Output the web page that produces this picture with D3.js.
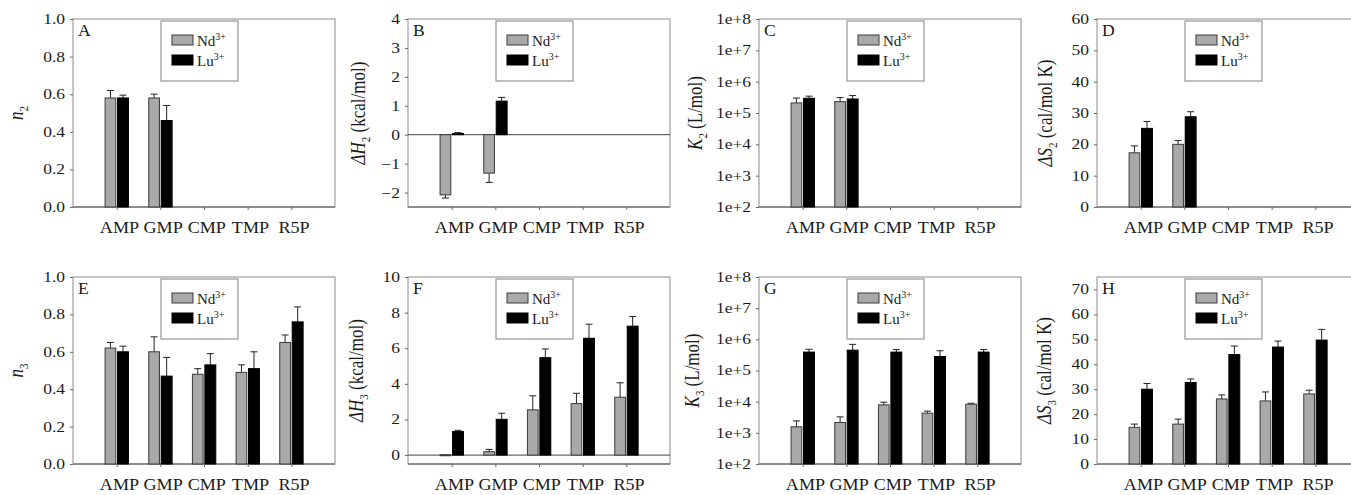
<!DOCTYPE html>
<html>
<head>
<meta charset="utf-8">
<script src="https://d3js.org/d3.v7.min.js"></script>
<style>
  body { margin: 0; background: #fff; }
  text { font-family: "Liberation Serif", "Times New Roman", serif; fill: #1a1a1a; }
</style>
</head>
<body>
<script>
// categories
var compounds = ["AMP", "GMP", "CMP", "TMP", "R5P"];

// top row (site 2) - only AMP and GMP measured
var n2Nd = [0.58, 0.58, null, null, null],  n2NdErr = [0.04, 0.02, null, null, null];
var n2Lu = [0.58, 0.46, null, null, null],  n2LuErr = [0.015, 0.08, null, null, null];
var dH2Nd = [-2.08, -1.33, null, null, null], dH2NdErr = [0.11, 0.32, null, null, null];
var dH2Lu = [0.04, 1.16, null, null, null],   dH2LuErr = [0.03, 0.13, null, null, null];
var K2Nd = [2.1e5, 2.3e5, null, null, null],  K2NdErr = [0.9e5, 0.8e5, null, null, null];
var K2Lu = [2.95e5, 2.8e5, null, null, null], K2LuErr = [0.5e5, 0.8e5, null, null, null];
var dS2Nd = [17.3, 20.0, null, null, null], dS2NdErr = [2.2, 1.2, null, null, null];
var dS2Lu = [25.1, 28.8, null, null, null], dS2LuErr = [2.2, 1.6, null, null, null];

// bottom row (site 3)
var n3Nd = [0.62, 0.60, 0.48, 0.49, 0.65], n3NdErr = [0.03, 0.08, 0.03, 0.04, 0.04];
var n3Lu = [0.60, 0.47, 0.53, 0.51, 0.76], n3LuErr = [0.03, 0.10, 0.06, 0.09, 0.08];
var dH3Nd = [0.02, 0.19, 2.54, 2.89, 3.25], dH3NdErr = [0, 0.13, 0.79, 0.58, 0.81];
var dH3Lu = [1.32, 2.01, 5.47, 6.56, 7.24], dH3LuErr = [0.07, 0.34, 0.49, 0.79, 0.54];
var K3Nd = [1.56e3, 2.15e3, 7.9e3, 4.27e3, 8.3e3], K3NdErr = [0.85e3, 1.1e3, 1.7e3, 0.7e3, 0.6e3];
var K3Lu = [3.9e5, 4.5e5, 3.9e5, 2.8e5, 3.9e5],    K3LuErr = [0.9e5, 2.4e5, 0.8e5, 1.5e5, 0.8e5];
var dS3Nd = [14.7, 16.0, 26.1, 25.3, 28.1], dS3NdErr = [1.3, 2.0, 1.6, 3.6, 1.5];
var dS3Lu = [30.0, 32.7, 43.9, 46.9, 49.7], dS3LuErr = [2.3, 1.4, 3.4, 2.4, 4.3];

// tick labels
var ticksN  = [0, 0.2, 0.4, 0.6, 0.8, 1.0];
var ticksH2 = [-2, -1, 0, 1, 2, 3, 4];
var ticksK  = [1e2, 1e3, 1e4, 1e5, 1e6, 1e7, 1e8];
var ticksS2 = [0, 10, 20, 30, 40, 50, 60];
var ticksH3 = [0, 2, 4, 6, 8, 10];
var ticksS3 = [0, 10, 20, 30, 40, 50, 60, 70];

var ions = ["Nd", "Lu"];

var W = 1351, H = 495;
var panelW = 262;
var sx = 1.25;   // the source figure is stretched sideways

var fmtN = d3.format(".1f"), fmtI = d3.format("d");
var fmtK = function (d) { return "1e+" + Math.round(Math.log10(d)); };

var panels = [
  {letter: "A", left: 73,   top: 19,  h: 188, tx: 23,   domain: [0, 1],     ticks: ticksN,  fmt: fmtN, nd: n2Nd,  ndE: n2NdErr,  lu: n2Lu,  luE: n2LuErr,
   title: [["n", "i"], ["2", "s"]]},
  {letter: "B", left: 408,  top: 19,  h: 188, tx: 365,  domain: [-2.5, 4],  ticks: ticksH2, fmt: fmtI, nd: dH2Nd, ndE: dH2NdErr, lu: dH2Lu, luE: dH2LuErr,
   title: [["ΔH", "i"], ["2", "s"], [" (kcal/mol)", ""]]},
  {letter: "C", left: 759,  top: 19,  h: 188, tx: 702,  domain: [1e2, 1e8], log: true, ticks: ticksK, fmt: fmtK, nd: K2Nd, ndE: K2NdErr, lu: K2Lu, luE: K2LuErr,
   title: [["K", "i"], ["2", "s"], [" (L/mol)", ""]]},
  {letter: "D", left: 1097, top: 19,  h: 188, tx: 1052, domain: [0, 60],    ticks: ticksS2, fmt: fmtI, nd: dS2Nd, ndE: dS2NdErr, lu: dS2Lu, luE: dS2LuErr,
   title: [["ΔS", "i"], ["2", "s"], [" (cal/mol K)", ""]]},
  {letter: "E", left: 73,   top: 277, h: 187, tx: 23,   domain: [0, 1],     ticks: ticksN,  fmt: fmtN, nd: n3Nd,  ndE: n3NdErr,  lu: n3Lu,  luE: n3LuErr,
   title: [["n", "i"], ["3", "s"]]},
  {letter: "F", left: 408,  top: 277, h: 187, tx: 363,  domain: [-0.5, 10], ticks: ticksH3, fmt: fmtI, nd: dH3Nd, ndE: dH3NdErr, lu: dH3Lu, luE: dH3LuErr,
   title: [["ΔH", "i"], ["3", "s"], [" (kcal/mol)", ""]]},
  {letter: "G", left: 759,  top: 277, h: 187, tx: 699,  domain: [1e2, 1e8], log: true, ticks: ticksK, fmt: fmtK, nd: K3Nd, ndE: K3NdErr, lu: K3Lu, luE: K3LuErr,
   title: [["K", "i"], ["3", "s"], [" (L/mol)", ""]]},
  {letter: "H", left: 1097, top: 277, h: 187, tx: 1051, domain: [0, 75],    ticks: ticksS3, fmt: fmtI, nd: dS3Nd, ndE: dS3NdErr, lu: dS3Lu, luE: dS3LuErr,
   title: [["ΔS", "i"], ["3", "s"], [" (cal/mol K)", ""]]}
];

var svg = d3.select("body").append("svg")
    .attr("width", W)
    .attr("height", H);

var barStyle = [
  {off: [-0.265, -0.02], fill: "#a9a9a9", stroke: "#3a3a3a"},
  {off: [0.02, 0.27],    fill: "#000",    stroke: "#000"}
];

panels.forEach(function (p) {
  var g = svg.append("g").attr("class", "panel");
  var x = d3.scaleLinear().domain([0, 6]).range([p.left, p.left + panelW]);
  var y = (p.log ? d3.scaleLog() : d3.scaleLinear()).domain(p.domain).range([p.top + p.h, p.top]);
  var base = p.log ? p.domain[0] : 0;

  // frame
  g.append("rect")
    .attr("x", p.left).attr("y", p.top)
    .attr("width", panelW).attr("height", p.h)
    .attr("fill", "none").attr("stroke", "#8c8c8c");
  g.append("line")
    .attr("x1", p.left).attr("x2", p.left + panelW)
    .attr("y1", p.top + p.h).attr("y2", p.top + p.h)
    .attr("stroke", "#555");

  if (p.domain[0] < 0) {
    g.append("line")
      .attr("x1", p.left).attr("x2", p.left + panelW)
      .attr("y1", y(0)).attr("y2", y(0))
      .attr("stroke", "#444");
  }

  // bars + error bars
  [[p.nd, p.ndE], [p.lu, p.luE]].forEach(function (s, k) {
    var st = barStyle[k];
    var rows = compounds.map(function (c, i) { return {i: i, v: s[0][i], e: s[1][i]}; })
      .filter(function (d) { return d.v != null; });

    var cx = function (d) { return (x(d.i + 1 + st.off[0]) + x(d.i + 1 + st.off[1])) / 2; };
    var errEnd = function (d) { return d.v >= base ? d.v + d.e : d.v - d.e; };
    var withErr = rows.filter(function (d) { return d.e > 0; });

    g.selectAll(null).data(withErr).enter().append("line")
      .attr("x1", cx).attr("x2", cx)
      .attr("y1", function (d) { return y(d.v); })
      .attr("y2", function (d) { return y(errEnd(d)); })
      .attr("stroke", "#222");
    g.selectAll(null).data(withErr).enter().append("line")
      .attr("x1", function (d) { return cx(d) - 3.5; })
      .attr("x2", function (d) { return cx(d) + 3.5; })
      .attr("y1", function (d) { return y(errEnd(d)); })
      .attr("y2", function (d) { return y(errEnd(d)); })
      .attr("stroke", "#222");

    g.selectAll(null).data(rows).enter().append("rect")
      .attr("x", function (d) { return x(d.i + 1 + st.off[0]); })
      .attr("width", function (d) { return x(d.i + 1 + st.off[1]) - x(d.i + 1 + st.off[0]); })
      .attr("y", function (d) { return Math.min(y(d.v), y(base)); })
      .attr("height", function (d) { return Math.max(1, Math.abs(y(d.v) - y(base))); })
      .attr("fill", st.fill)
      .attr("stroke", st.stroke)
      .attr("stroke-width", 1);
  });

  // axes
  var xa = g.append("g")
    .attr("transform", "translate(0," + (p.top + p.h) + ")")
    .call(d3.axisBottom(x).tickValues([1, 2, 3, 4, 5])
      .tickFormat(function (d) { return compounds[d - 1]; })
      .tickSize(3).tickPadding(12));
  xa.select(".domain").remove();
  xa.selectAll("line").attr("stroke", "#666");
  xa.selectAll("text")
    .style("font-size", "16px")
    .attr("x", 2)
    .attr("transform", "scale(1.13,1)");

  var ya = g.append("g")
    .attr("transform", "translate(" + p.left + ",0)")
    .call(d3.axisLeft(y).tickValues(p.ticks).tickFormat(p.fmt).tickSize(3).tickPadding(5));
  ya.select(".domain").remove();
  ya.selectAll("line").attr("stroke", "#666");
  ya.selectAll("text")
    .style("font-size", "14px")
    .attr("x", -8 / sx)
    .attr("transform", "scale(" + sx + ",1)");

  // y title
  var t = g.append("text")
    .attr("transform", "translate(" + p.tx + "," + (p.top + p.h / 2) + ") rotate(-90) scale(1,1.2)")
    .attr("text-anchor", "middle")
    .style("font-size", "17px");
  p.title.forEach(function (seg, j) {
    var ts = t.append("tspan").text(seg[0]);
    if (seg[1] === "i") ts.style("font-style", "italic");
    if (seg[1] === "s") ts.style("font-size", "11px").attr("dy", 4);
    if (j > 0 && p.title[j - 1][1] === "s") ts.attr("dy", -4);
  });

  // panel letter
  g.append("text")
    .attr("transform", "translate(" + (p.left + 5) + "," + (p.top + 17) + ") scale(1.1,1)")
    .style("font-size", "16px")
    .text(p.letter);

  // legend
  var lx = p.left + 88, ly = p.top + 2;
  var lg = g.append("g").attr("transform", "translate(" + lx + "," + ly + ")");
  lg.append("rect")
    .attr("width", 77).attr("height", 60)
    .attr("fill", "#fff").attr("stroke", "#808080");
  ions.forEach(function (ion, k) {
    lg.append("rect")
      .attr("x", 11).attr("y", 14 + k * 20)
      .attr("width", 21).attr("height", 10)
      .attr("fill", barStyle[k].fill).attr("stroke", barStyle[k].stroke);
    var lt = lg.append("text")
      .attr("transform", "translate(36," + (25 + k * 20) + ")")
      .style("font-size", "15px");
    lt.append("tspan").text(ion);
    lt.append("tspan").text("3+").style("font-size", "10px").attr("dy", -6);
  });
});
</script>
</body>
</html>
